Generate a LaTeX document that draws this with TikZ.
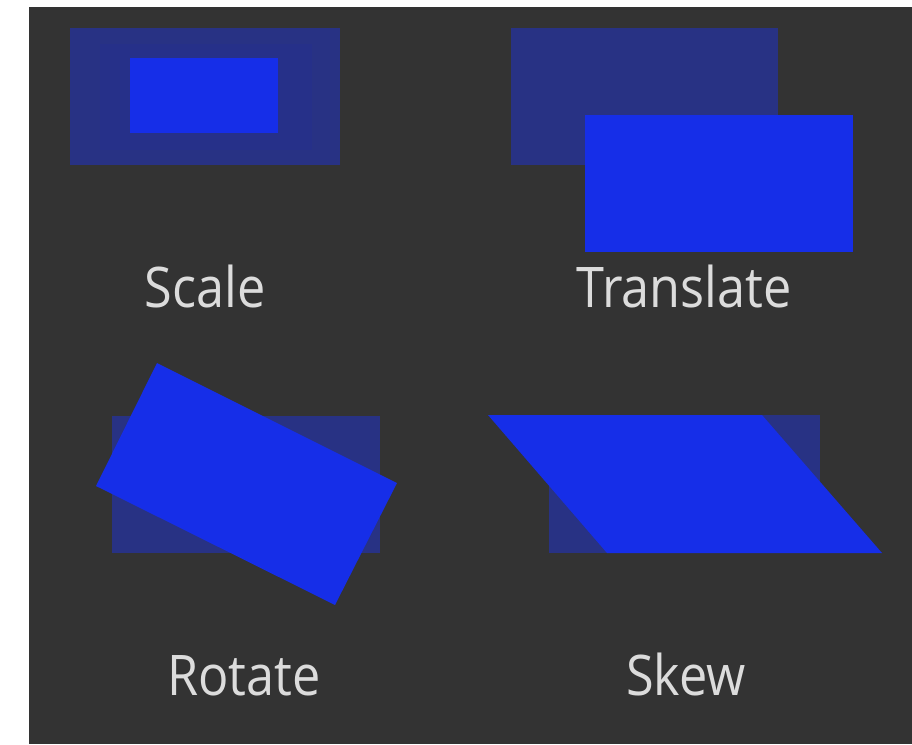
\documentclass[tikz,border=0pt]{standalone}
\usepackage{fontspec}
\setmainfont{Open Sans}
\definecolor{panel}{RGB}{51,51,51}
\definecolor{ghost}{RGB}{40,50,132}
\definecolor{ghostmid}{RGB}{38,48,137}
\definecolor{solidblue}{RGB}{22,46,232}
\definecolor{labelgray}{RGB}{220,220,220}
\begin{document}
\begin{tikzpicture}[x=1pt,y=-1pt,
  ghostrect/.style={fill=ghost,draw=none},
  solidrect/.style={fill=solidblue,draw=none},
  caption/.style={text=labelgray,font=\fontsize{56}{60}\selectfont,anchor=base,inner sep=0pt,xscale=0.9,transform shape}]
  % page and dark panel
  \fill[white] (0,0) rectangle (912,744);
  \fill[panel] (29,7) rectangle (912,744);
  \useasboundingbox (0,0) rectangle (912,744);

  % Scale: original, an intermediate step, scaled-down result
  \fill[ghostrect] (70,28) rectangle (340,165);
  \fill[ghostmid] (100,44) rectangle (312,150);
  \fill[solidrect] (130,58) rectangle (278,133);

  % Translate: original and shifted copy
  \fill[ghostrect] (511,28) rectangle (778,165);
  \fill[solidrect] (585,115) rectangle (853,252);

  % Rotate: original and rotated copy
  \fill[ghostrect] (112,416) rectangle (380,553);
  \fill[solidrect] (157,363) -- (397,483) -- (335,605) -- (96,486) -- cycle;

  % Skew: original and skewed copy
  \fill[ghostrect] (549,415) rectangle (820,553);
  \fill[solidrect] (488,415) -- (762,415) -- (882,553) -- (607,553) -- cycle;

  % captions
  \node[caption] (lscale) at (205,307) {Scale};
  \node[caption] (ltranslate) at (684,307) {Translate};
  \node[caption] (lrotate) at (244,695) {Rotate};
  \node[caption] (lskew) at (686,695) {Skew};
\end{tikzpicture}
\end{document}
